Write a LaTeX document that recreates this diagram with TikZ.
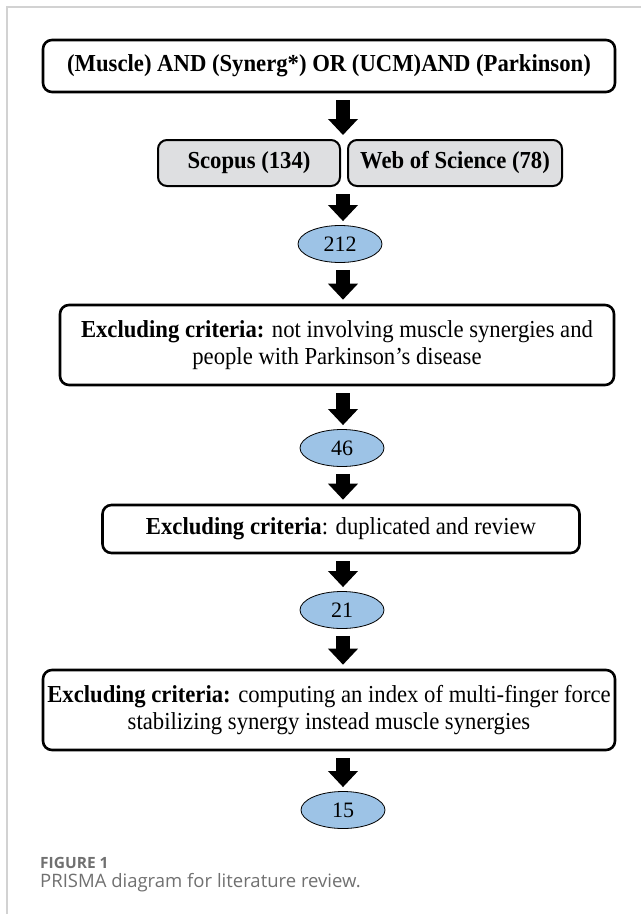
\documentclass[tikz,border=0pt]{standalone}
\usepackage{fontspec}
\setmainfont{Liberation Serif}
\newfontfamily\boxfont[FakeStretch=0.93]{Liberation Serif}
\newfontfamily\captionfont{Open Sans}
\usetikzlibrary{arrows.meta,shapes.geometric}
\definecolor{dbgray}{HTML}{DEDFE1}
\definecolor{countblue}{HTML}{9DC3E6}
\definecolor{capgray}{HTML}{707070}
\definecolor{framegray}{HTML}{D2D2D2}
\tikzset{
	stagebox/.style={draw=black,line width=2.6pt,rounded corners=9pt,align=center,
		inner sep=0pt,font=\boxfont\fontsize{24.4}{27}\selectfont},
	dbbox/.style={stagebox,line width=2pt,fill=dbgray,minimum height=46pt,
		font=\boxfont\fontsize{24.4}{27}\selectfont\bfseries},
	countnode/.style={ellipse,draw=black,line width=0.8pt,fill=countblue,
		minimum width=84pt,minimum height=37pt,inner sep=0pt,font=\fontsize{22}{26}\selectfont},
	flowarrow/.style={line width=14pt,-{Triangle[width=29pt,length=16pt]},
		shorten <=7pt,shorten >=4pt}
}
\begin{document}
\begin{tikzpicture}[x=1pt,y=-1pt]
	\useasboundingbox (0,0) rectangle (641,914);
	\draw[framegray,line width=1.5pt] (7,914) -- (7,7) -- (641,7);
	\coordinate (axis) at (343,0);
	% search and databases
	\node[stagebox,minimum width=572pt,minimum height=52pt] (query) at (329,66)
		{\bfseries (Muscle) AND (Synerg*) OR (UCM)AND (Parkinson)};
	\node[dbbox,minimum width=182pt] (scopus) at (249,163) {Scopus (134)};
	\node[dbbox,minimum width=214pt] (wos) at (455,163) {Web of Science (78)};
	\node[countnode] (n212) at (340,244) {212};
	% screening stages
	\node[stagebox,minimum width=554pt,minimum height=80pt] (crit1) at (337,345)
		{\textbf{Excluding criteria:} not involving muscle synergies and\\people with Parkinson’s disease};
	\node[countnode] (n46) at (342,448) {46};
	\node[stagebox,minimum width=477pt,minimum height=48pt] (crit2) at (341,529)
		{\textbf{Excluding criteria}: duplicated and review};
	\node[countnode] (n21) at (342,610) {21};
	\node[stagebox,minimum width=572pt,minimum height=80pt] (crit3) at (329,710)
		{\textbf{Excluding criteria:} computing an index of multi-finger force\\stabilizing synergy instead muscle synergies};
	\node[countnode] (n15) at (343,810) {15};
	% arrows
	\draw[flowarrow] (query.south -| axis) -- (scopus.north -| axis);
	\foreach \from/\to in {scopus/n212,n212/crit1,crit1/n46,n46/crit2,crit2/n21,n21/crit3,crit3/n15}
		\draw[flowarrow] (\from.south -| axis) -- (\to.north -| axis);
	% caption
	\node[anchor=base west,inner sep=0pt,text=capgray,
		font=\captionfont\bfseries\fontsize{15.5}{18}\selectfont] (figlabel) at (40,868) {FIGURE 1};
	\node[anchor=base west,inner sep=0pt,text=capgray,
		font=\captionfont\fontsize{18.5}{21}\selectfont] (figcaption) at (40,887) {PRISMA diagram for literature review.};
\end{tikzpicture}
\end{document}
